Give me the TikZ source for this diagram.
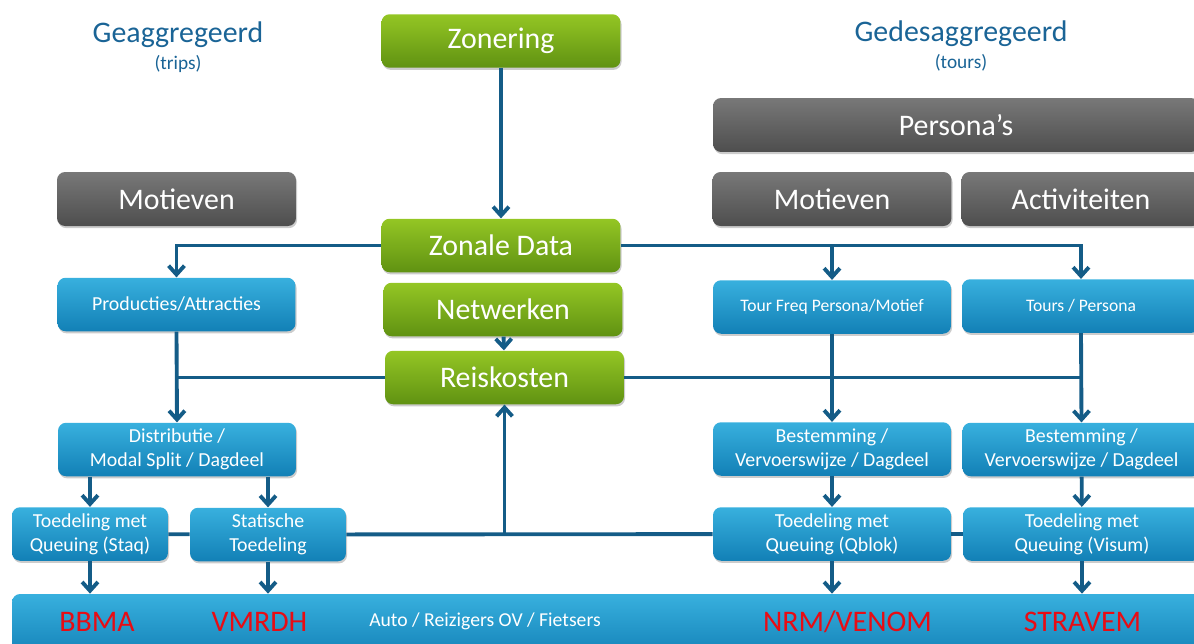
\documentclass[tikz,border=0pt]{standalone}
\usepackage{fontspec}
\setmainfont{Carlito}
\usetikzlibrary{arrows.meta,shadows}

\definecolor{linkblue}{RGB}{20,92,135}
\definecolor{titleblue}{RGB}{26,100,150}
\definecolor{modelred}{RGB}{232,12,20}
\definecolor{greentop}{RGB}{148,198,36}
\definecolor{greenbot}{RGB}{96,146,18}
\definecolor{graytop}{RGB}{120,120,120}
\definecolor{graybot}{RGB}{78,78,78}
\definecolor{bluetop}{RGB}{56,176,222}
\definecolor{bluebot}{RGB}{18,128,182}

\begin{document}
\begin{tikzpicture}[x=0.02cm,y=-0.02cm]
		\tikzstyle{box} = [rectangle, rounded corners=0.16cm, inner sep=0pt, text=white,
		align=center, drop shadow={opacity=0.4, shadow xshift=0.6pt, shadow yshift=-1.2pt}]
		\tikzstyle{greenbox} = [box, minimum width=4.78cm, minimum height=1.07cm,
		top color=greentop, bottom color=greenbot, font=\fontsize{17}{20}\selectfont]
		\tikzstyle{graybox} = [box, minimum width=4.78cm, minimum height=1.08cm,
		top color=graytop, bottom color=graybot, font=\fontsize{17}{20}\selectfont]
		\tikzstyle{bluebox} = [box, minimum width=4.76cm, minimum height=1.07cm,
		top color=bluetop, bottom color=bluebot, font=\fontsize{11.3}{13.6}\selectfont]
		\tikzstyle{tourbox} = [bluebox, font=\fontsize{10}{12}\selectfont]
		\tikzstyle{smallbox} = [bluebox, minimum width=3.12cm]
		\tikzstyle{title} = [text=titleblue, font=\fontsize{17}{20}\selectfont]
		\tikzstyle{subtitle} = [text=titleblue, font=\fontsize{11}{13}\selectfont]
		\tikzstyle{model} = [text=modelred, font=\fontsize{17}{20}\selectfont]
		\tikzstyle{line} = [draw=linkblue, line width=2.2pt]
		\tikzstyle{arrow} = [line, -{Straight Barb[length=5pt,width=9pt]}]
		\useasboundingbox (0,0) rectangle (1194,643);
		% headings
		\node (aggr) [title] at (178,35) {Geaggregeerd};
		\node (trips) [subtitle] at (178,64) {(trips)};
		\node (desaggr) [title] at (961,34) {Gedesaggregeerd};
		\node (tours) [subtitle] at (961,63) {(tours)};
		% central column
		\node (zonering) [greenbox] at (501,41) {Zonering};
		\node (zonaledata) [greenbox] at (501,245.5) {Zonale Data};
		\node (netwerken) [greenbox] at (503,309.5) {Netwerken};
		\node (reiskosten) [greenbox] at (504.5,377.5) {Reiskosten};
		% left: geaggregeerd
		\node (motievenL) [graybox] at (176.5,199) {Motieven};
		\node (producties) [bluebox] at (176.5,304.5) {Producties/Attracties};
		\node (distributie) [bluebox] at (177,449.5) {Distributie /\\Modal Split / Dagdeel};
		\node (staq) [smallbox] at (90,534) {Toedeling met\\Queuing (Staq)};
		\node (statische) [smallbox] at (268,534.5) {Statische\\Toedeling};
		% right: gedesaggregeerd
		\node (personas) [graybox, minimum width=9.72cm] at (956,125) {Persona’s};
		\node (motievenR) [graybox] at (832,199) {Motieven};
		\node (activiteiten) [graybox] at (1081,199) {Activiteiten};
		\node (tourfreq) [tourbox] at (832,307) {Tour Freq Persona/Motief};
		\node (tourspersona) [tourbox] at (1081,306) {Tours / Persona};
		\node (bestemmingA) [bluebox] at (832,449) {Bestemming /\\Vervoerswijze / Dagdeel};
		\node (bestemmingB) [bluebox] at (1081.5,449.5) {Bestemming /\\Vervoerswijze / Dagdeel};
		\node (qblok) [bluebox] at (832,534) {Toedeling met\\Queuing (Qblok)};
		\node (visum) [bluebox] at (1082,534) {Toedeling met\\Queuing (Visum)};
		% models
		\node (bar) [bluebox, minimum width=24.06cm, minimum height=1.32cm] at (613.5,627) {};
		\node (bbma) [model] at (97,622) {BBMA};
		\node (vmrdh) [model] at (259.5,622) {VMRDH};
		\node (modes) [text=white, font=\fontsize{11.2}{13}\selectfont] at (485,621) {Auto / Reizigers OV / Fietsers};
		\node (nrm) [model] at (847.5,622) {NRM/VENOM};
		\node (stravem) [model] at (1082.5,622) {STRAVEM};
		% connectors
		\draw [arrow] (zonering) -- (zonaledata);
		\draw [arrow] (netwerken) -- (reiskosten);
		\draw [arrow] (zonaledata.west) -| (producties.north);
		\draw [arrow] (zonaledata.east) -| (tourspersona.north);
		\draw [arrow] (zonaledata.east -| tourfreq.north) -- (tourfreq.north);
		\draw [line] (reiskosten.west) -- (reiskosten.west -| producties.south);
		\draw [line] (reiskosten.east) -- (reiskosten.east -| tourspersona.south);
		\draw [arrow] (producties.south) -- (distributie.north);
		\draw [arrow] (tourfreq.south) -- (bestemmingA.north);
		\draw [arrow] (tourspersona.south) -- (bestemmingB.north);
		\draw [arrow] (staq.north |- distributie.south) -- (staq.north);
		\draw [arrow] (statische.north |- distributie.south) -- (statische.north);
		\draw [arrow] (bestemmingA) -- (qblok);
		\draw [arrow] (bestemmingB) -- (visum);
		\draw [line] (staq) -- (statische);
		\draw [line] (statische) -- (qblok);
		\draw [line] (qblok) -- (visum);
		\draw [arrow] (statische.east -| reiskosten.south) -- (reiskosten.south);
		\foreach \n in {staq,statische,qblok,visum}
		\draw [arrow] (\n.south) -- (\n.south |- bar.north);
\end{tikzpicture}
\end{document}
